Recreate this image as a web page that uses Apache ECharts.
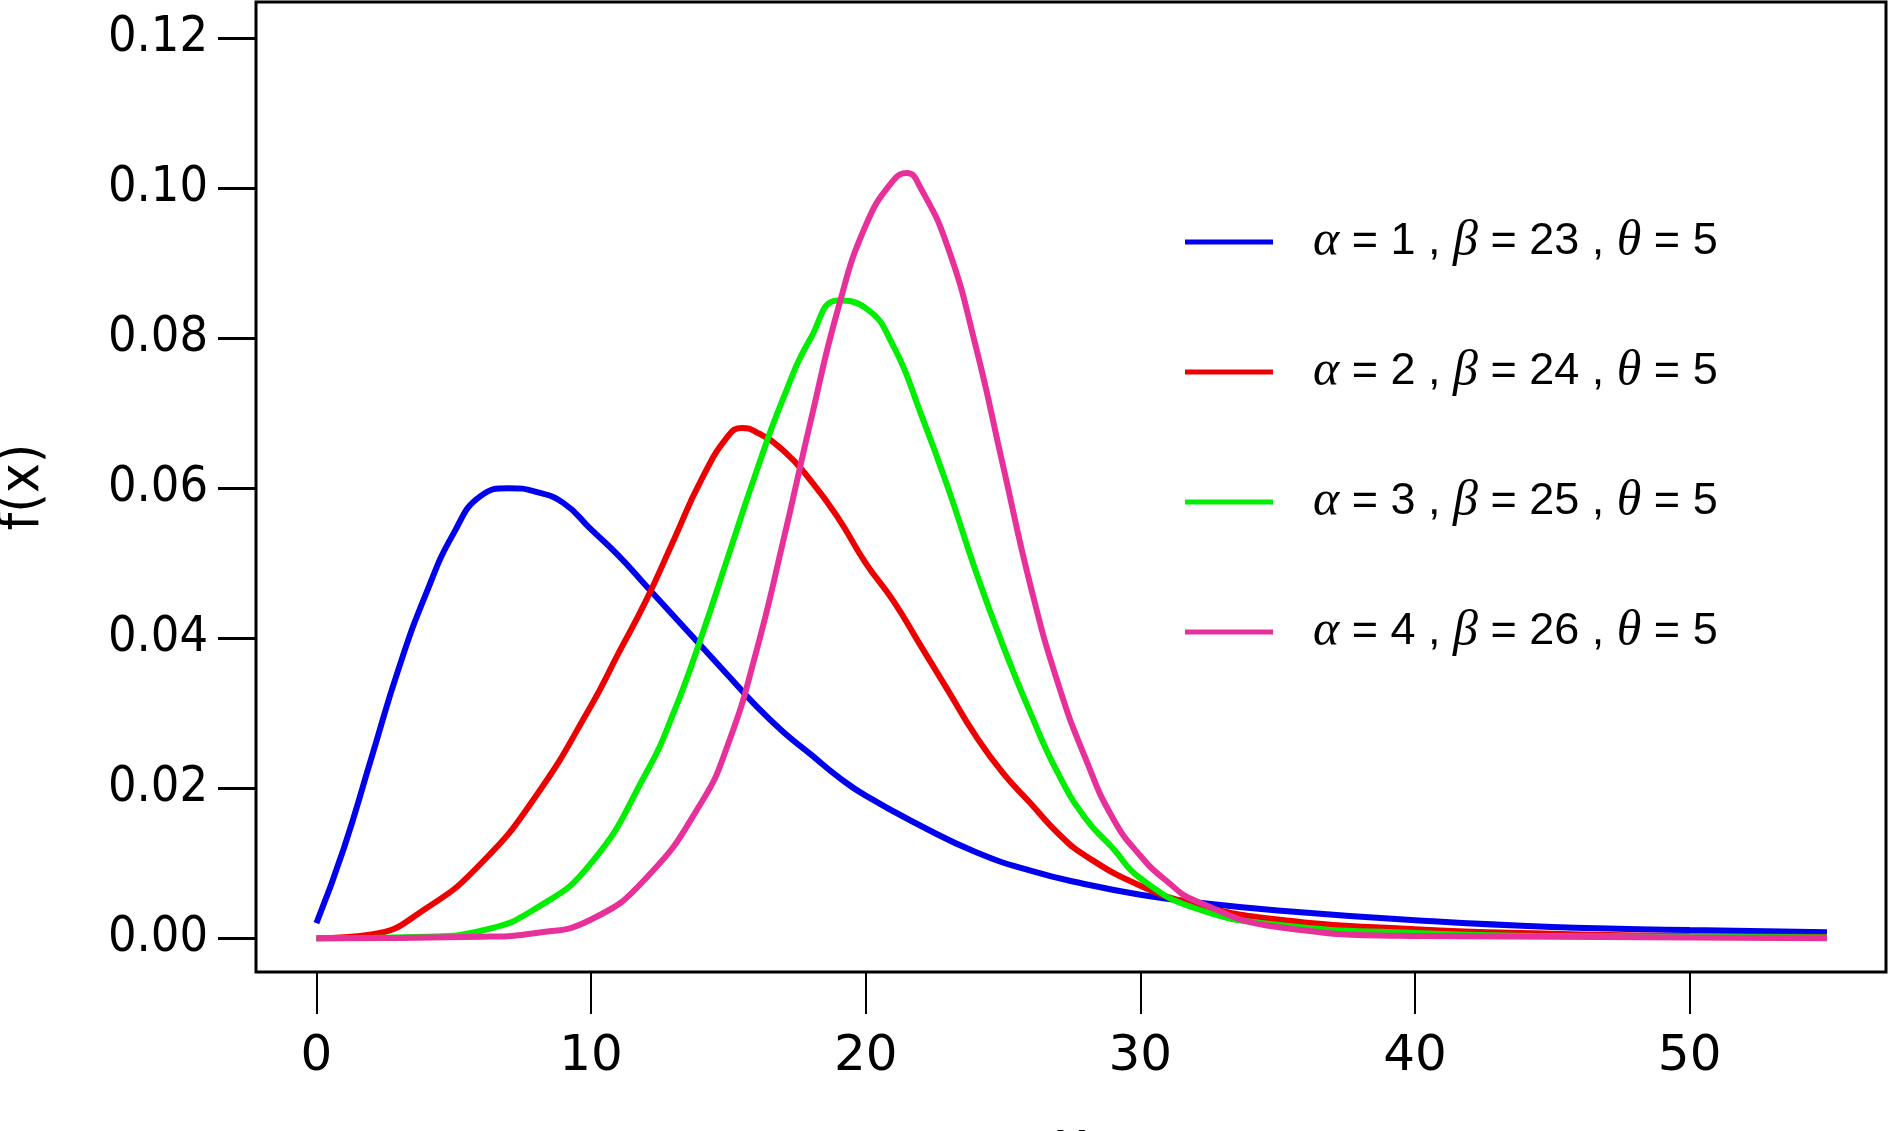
<!DOCTYPE html>
<html>
<head>
<meta charset="utf-8">
<script src="https://cdn.jsdelivr.net/npm/echarts@6/dist/echarts.min.js"></script>
<style>html,body{margin:0;padding:0;background:#fff}#main{width:1890px;height:1131px}</style>
</head>
<body>
<div id="main"></div>
<script>
// values
var blueData = [[0,0.002],[1,0.012],[2,0.024],[3,0.036],[4,0.046],[5,0.054],[6,0.059],[7,0.060],[8,0.0595],[9,0.058],[10,0.0545],[11,0.051],[12,0.047],[13,0.043],[14,0.039],[15,0.035],[16,0.031],[17,0.0275],[18,0.0245],[19,0.0215],[20,0.019],[22,0.015],[24,0.0115],[26,0.009],[28,0.0072],[30,0.0058],[32,0.0048],[35,0.0037],[40,0.0024],[45,0.0015],[50,0.0011],[55,0.0008]];
var redData = [[0,0],[2,0.0005],[4,0.004],[6,0.010],[8,0.019],[10,0.031],[11,0.038],[12,0.045],[13,0.053],[14,0.061],[15,0.067],[15.5,0.068],[16,0.0675],[17,0.065],[18,0.061],[19,0.056],[20,0.050],[21,0.045],[22,0.039],[23,0.033],[24,0.027],[25,0.022],[26,0.018],[27,0.014],[28,0.011],[30,0.007],[32,0.0045],[35,0.0025],[40,0.0012],[45,0.0006],[50,0.0003],[55,0.0002]];
var greenData = [[0,0],[4,0.0002],[6,0.001],[8,0.004],[10,0.010],[12,0.022],[13,0.030],[14,0.040],[15,0.051],[16,0.062],[17,0.072],[18,0.080],[19,0.085],[20,0.084],[21,0.079],[22,0.070],[23,0.060],[24,0.049],[25,0.039],[26,0.030],[27,0.022],[28,0.016],[29,0.012],[30,0.008],[32,0.004],[35,0.0018],[40,0.0007],[45,0.0003],[55,0.0001]];
var pinkData = [[0,0],[6,0.0002],[8,0.0007],[10,0.0025],[12,0.008],[14,0.018],[15,0.026],[16,0.038],[17,0.053],[18,0.069],[19,0.084],[20,0.095],[21,0.101],[21.5,0.102],[22,0.100],[23,0.092],[24,0.079],[25,0.063],[26,0.047],[27,0.034],[28,0.024],[29,0.016],[30,0.011],[31,0.0075],[32,0.005],[35,0.0015],[40,0.0003],[55,0]];
var seriesNames = ['s1','s2','s3','s4'];
var legendTexts = ['{g|α} = 1 , {g|β} = 23 , {g|θ} = 5','{g|α} = 2 , {g|β} = 24 , {g|θ} = 5','{g|α} = 3 , {g|β} = 25 , {g|θ} = 5','{g|α} = 4 , {g|β} = 26 , {g|θ} = 5'];
var colors = ['#0000ee','#ee0000','#00ee00','#e8309a'];
var xTicks = [0,10,20,30,40,50];
var yTicks = [0,0.02,0.04,0.06,0.08,0.10,0.12];

var chart = echarts.init(document.getElementById('main'));
var allData = [blueData, redData, greenData, pinkData];
var series = [];
for (var i = 0; i < allData.length; i++) {
    series.push({
        name: seriesNames[i],
        type: 'line',
        data: allData[i],
        smooth: 0.5,
        showSymbol: false,
        lineStyle: { color: colors[i], width: 6 },
        itemStyle: { color: colors[i] }
    });
}
chart.setOption({
    animation: false,
    grid: { left: 256, right: 4, top: 2, bottom: 159, outerBoundsMode: 'none', containLabel: false,
        show: true, borderColor: '#000', borderWidth: 3, backgroundColor: '#fff' },
    legend: {
        left: 1180, top: 212, orient: 'vertical', itemGap: 80,
        icon: 'rect', itemWidth: 88, itemHeight: 5,
        formatter: function (n) { return legendTexts[seriesNames.indexOf(n)]; },
        textStyle: {
            fontFamily: 'Liberation Sans', fontSize: 45, color: '#000', padding: [0, 0, 0, 35],
            rich: { g: { fontFamily: 'Liberation Serif', fontStyle: 'italic', fontSize: 50, color: '#000' } }
        },
        data: seriesNames
    },
    xAxis: {
        type: 'value', min: -2.2, max: 57.15,
        name: 'x', nameLocation: 'middle', nameGap: 145,
        nameTextStyle: { fontFamily: 'DejaVu Sans', fontSize: 56, color: '#000' },
        splitLine: { show: false }, axisLine: { show: false, onZero: false },
        axisTick: { show: true, length: 42, customValues: xTicks, lineStyle: { color: '#000', width: 2 } },
        axisLabel: { customValues: xTicks, margin: 60, fontFamily: 'DejaVu Sans', fontSize: 50, color: '#000' }
    },
    yAxis: {
        type: 'value', min: -0.0045, max: 0.1248,
        name: 'f(x)', nameLocation: 'middle', nameGap: 205, nameRotate: 90,
        nameTextStyle: { fontFamily: 'DejaVu Sans Condensed', fontSize: 56, color: '#000' },
        splitLine: { show: false }, axisLine: { show: false, onZero: false },
        axisTick: { show: true, length: 38, customValues: yTicks, lineStyle: { color: '#000', width: 3 } },
        axisLabel: { customValues: yTicks, margin: 48, fontFamily: 'DejaVu Sans Condensed', fontSize: 50, color: '#000',
            formatter: function (v) { return v.toFixed(2); } }
    },
    series: series
});
</script>
</body>
</html>
